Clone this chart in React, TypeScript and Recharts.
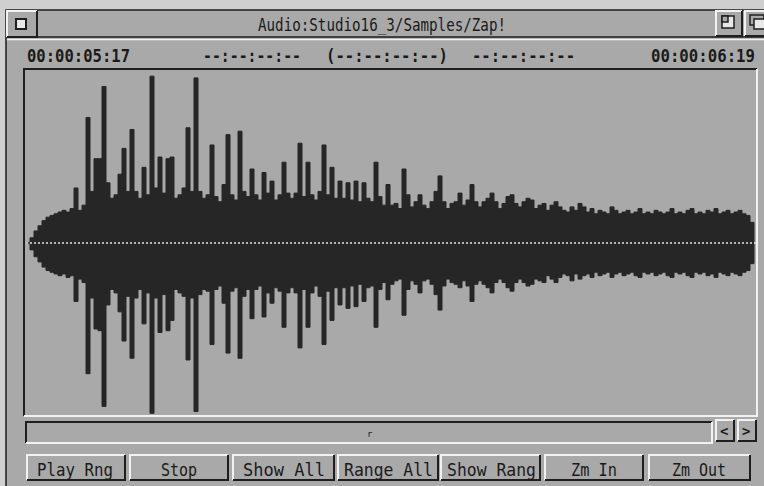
import React from 'react';
import { ComposedChart, Area, XAxis, YAxis, ReferenceLine } from 'recharts';

// Peak envelope of the sample, one block every 4 sample-columns (0..728)
const BLOCK = 4;
const upperPeak = [
  0, 0.03, 0.07, 0.10, 0.13, 0.15, 0.16, 0.17, 0.18, 0.19, 0.18, 0.20, 0.32, 0.19, 0.22, 0.73,
  0.30, 0.49, 0.49, 0.91, 0.35, 0.26, 0.28, 0.40, 0.55, 0.30, 0.66, 0.30, 0.26, 0.44, 0.28, 0.97,
  0.32, 0.50, 0.29, 0.49, 0.50, 0.26, 0.28, 0.32, 0.67, 0.30, 0.96, 0.30, 0.26, 0.28, 0.57, 0.27,
  0.24, 0.34, 0.63, 0.28, 0.25, 0.65, 0.30, 0.27, 0.43, 0.28, 0.25, 0.41, 0.29, 0.36, 0.25, 0.28,
  0.47, 0.29, 0.26, 0.29, 0.58, 0.27, 0.47, 0.28, 0.25, 0.30, 0.57, 0.28, 0.44, 0.26, 0.36, 0.26,
  0.35, 0.25, 0.36, 0.24, 0.35, 0.26, 0.24, 0.47, 0.27, 0.22, 0.34, 0.22, 0.23, 0.20, 0.43, 0.28,
  0.21, 0.24, 0.28, 0.22, 0.20, 0.24, 0.30, 0.39, 0.24, 0.20, 0.23, 0.24, 0.29, 0.22, 0.25, 0.34,
  0.24, 0.21, 0.24, 0.26, 0.29, 0.24, 0.20, 0.23, 0.27, 0.28, 0.23, 0.21, 0.24, 0.26, 0.25, 0.20,
  0.22, 0.23, 0.19, 0.22, 0.24, 0.21, 0.19, 0.18, 0.21, 0.19, 0.23, 0.21, 0.18, 0.20, 0.17, 0.19,
  0.18, 0.17, 0.21, 0.19, 0.17, 0.18, 0.19, 0.17, 0.18, 0.20, 0.17, 0.18, 0.17, 0.19, 0.18, 0.17,
  0.18, 0.20, 0.17, 0.18, 0.17, 0.19, 0.20, 0.17, 0.18, 0.17, 0.19, 0.18, 0.20, 0.17, 0.18, 0.19,
  0.17, 0.18, 0.19, 0.17, 0.16, 0.12, 0,
];
const lowerPeak = [
  0, 0.04, 0.08, 0.11, 0.14, 0.16, 0.17, 0.18, 0.19, 0.18, 0.20, 0.19, 0.34, 0.21, 0.23, 0.76,
  0.32, 0.50, 0.51, 0.95, 0.36, 0.27, 0.29, 0.40, 0.57, 0.31, 0.67, 0.32, 0.27, 0.47, 0.29, 0.99,
  0.32, 0.52, 0.30, 0.51, 0.45, 0.27, 0.29, 0.31, 0.68, 0.32, 0.98, 0.30, 0.27, 0.28, 0.59, 0.27,
  0.25, 0.35, 0.64, 0.28, 0.26, 0.67, 0.31, 0.27, 0.44, 0.27, 0.25, 0.43, 0.29, 0.35, 0.26, 0.28,
  0.49, 0.29, 0.26, 0.29, 0.61, 0.27, 0.49, 0.29, 0.25, 0.31, 0.59, 0.28, 0.45, 0.26, 0.36, 0.26,
  0.38, 0.25, 0.37, 0.24, 0.34, 0.26, 0.25, 0.49, 0.27, 0.23, 0.33, 0.24, 0.22, 0.21, 0.42, 0.27,
  0.22, 0.24, 0.29, 0.22, 0.21, 0.24, 0.30, 0.39, 0.25, 0.21, 0.23, 0.24, 0.26, 0.22, 0.25, 0.34,
  0.24, 0.22, 0.24, 0.26, 0.29, 0.23, 0.21, 0.23, 0.26, 0.28, 0.23, 0.21, 0.23, 0.25, 0.24, 0.21,
  0.22, 0.23, 0.19, 0.21, 0.23, 0.20, 0.18, 0.19, 0.22, 0.18, 0.21, 0.19, 0.18, 0.20, 0.17, 0.19,
  0.18, 0.17, 0.20, 0.18, 0.17, 0.19, 0.18, 0.17, 0.19, 0.20, 0.17, 0.18, 0.17, 0.19, 0.18, 0.17,
  0.19, 0.20, 0.17, 0.18, 0.17, 0.19, 0.20, 0.17, 0.18, 0.17, 0.19, 0.18, 0.20, 0.17, 0.18, 0.19,
  0.17, 0.18, 0.19, 0.17, 0.16, 0.12, 0,
];

const windowTitle = 'Audio:Studio16_3/Samples/Zap!';
const startTime = '00:00:05:17';
const endTime = '00:00:06:19';
const rangeLabels = ['--:--:--:--', '(--:--:--:--)', '--:--:--:--'];
const buttonLabels = ['Play Rng', 'Stop', 'Show All', 'Range All', 'Show Rang', 'Zm In', 'Zm Out'];

const data = upperPeak.map((u, i) => ({ pos: i * BLOCK, peak: [-lowerPeak[i], u] }));

const BG = '#a9a9a9';
const DARK = '#1e1e1e';
const LIGHT = '#f2f2f2';
const FONT = '"DejaVu Sans Mono", monospace';

const Label = ({ x, y, w, text, size = 16, weight = 'bold' }: any) => (
  <g transform={`translate(${x},${y}) scale(1,1.15)`}>
    <text x={0} y={0} textLength={w} lengthAdjust="spacingAndGlyphs" fontFamily={FONT}
      fontSize={size} fontWeight={weight} fill="#1a1a1a">{text}</text>
  </g>
);

const Bevel = ({ x, y, w, h, raised = true }: any) => (
  <g>
    <rect x={x} y={y} width={w} height={h} fill={BG} />
    <path d={`M${x} ${y + h} V${y} H${x + w}`} stroke={raised ? LIGHT : DARK} strokeWidth={2} fill="none" />
    <path d={`M${x + w} ${y} V${y + h} H${x}`} stroke={raised ? DARK : LIGHT} strokeWidth={2} fill="none" />
  </g>
);

const buttonBoxes = [
  [27, 98], [130, 98], [233, 101], [338, 100], [441, 99], [545, 98], [649, 101],
];
const buttonText = [
  [37, 76], [161, 36], [243, 82], [344, 89], [447, 89], [571, 46], [672, 54],
];

export default function App() {
  return (
    <div style={{ position: 'absolute', left: 0, top: 0, width: 764, height: 486, background: '#cfcfcf', overflow: 'hidden' }}>
      <svg width={764} height={486} style={{ position: 'absolute', left: 0, top: 0 }}>
        <rect x={6} y={10} width={760} height={480} fill={BG} stroke={DARK} strokeWidth={1.5} />
        {/* title bar */}
        <Bevel x={7} y={11} w={30} h={26} />
        <rect x={16} y={19} width={10} height={10} fill="#e8e8e8" stroke={DARK} strokeWidth={2} />
        <path d="M38 37 H764" stroke={DARK} strokeWidth={1.5} />
        <path d="M7 39.5 H764" stroke={LIGHT} strokeWidth={1.5} />
        <Label x={258} y={31} w={248} text={windowTitle} size={16} weight="normal" />
        <Bevel x={716} y={11} w={26} h={25} />
        <rect x={722} y={16} width={12} height={12} fill="#e8e8e8" stroke={DARK} strokeWidth={1.5} />
        <rect x={722} y={16} width={6} height={6} fill={BG} stroke={DARK} strokeWidth={1.5} />
        <Bevel x={745} y={11} w={24} h={25} />
        <rect x={750} y={15} width={14} height={10} fill={BG} stroke={DARK} strokeWidth={1.5} />
        <rect x={754} y={19} width={14} height={10} fill="#e8e8e8" stroke={DARK} strokeWidth={1.5} />
        {/* time row */}
        <Label x={27} y={62} w={103} text={startTime} />
        <Label x={203} y={62} w={98} text={rangeLabels[0]} />
        <Label x={326} y={62} w={122} text={rangeLabels[1]} />
        <Label x={472} y={62} w={103} text={rangeLabels[2]} />
        <Label x={651} y={62} w={104} text={endTime} />
        {/* waveform frame */}
        <Bevel x={24} y={69} w={733} h={347} raised={false} />
        {/* scroll bar */}
        <Bevel x={26} y={422} w={686} h={21} raised={false} />
        <text x={367} y={437} fontFamily={FONT} fontSize={9} fill="#1a1a1a">r</text>
        <Bevel x={716} y={420} w={18} h={21} />
        <text x={720} y={436} fontFamily={FONT} fontSize={14} fontWeight="bold" fill="#1a1a1a">&lt;</text>
        <Bevel x={738} y={420} w={18} h={21} />
        <text x={742} y={436} fontFamily={FONT} fontSize={14} fontWeight="bold" fill="#1a1a1a">&gt;</text>
        {/* buttons */}
        {buttonLabels.map((b, i) => (
          <g key={b}>
            <Bevel x={buttonBoxes[i][0]} y={455} w={buttonBoxes[i][1]} h={25} />
            <Label x={buttonText[i][0]} y={476} w={buttonText[i][1]} text={b} size={16} weight="normal" />
          </g>
        ))}
      </svg>
      <div style={{ position: 'absolute', left: 26, top: 71, width: 730, height: 344 }}>
        <ComposedChart width={730} height={344} data={data} margin={{ top: 0, right: 0, bottom: 0, left: 0 }}>
          <XAxis dataKey="pos" type="number" domain={[0, 730]} hide />
          <YAxis type="number" domain={[-1, 1]} hide />
          <Area dataKey="peak" type="stepAfter" stroke="#262626" strokeWidth={1} fill="#262626"
            fillOpacity={1} isAnimationActive={false} dot={false} activeDot={false} />
          <ReferenceLine y={0} stroke="#e6e6e6" strokeWidth={1.5} strokeDasharray="2 2" />
        </ComposedChart>
      </div>
    </div>
  );
}
